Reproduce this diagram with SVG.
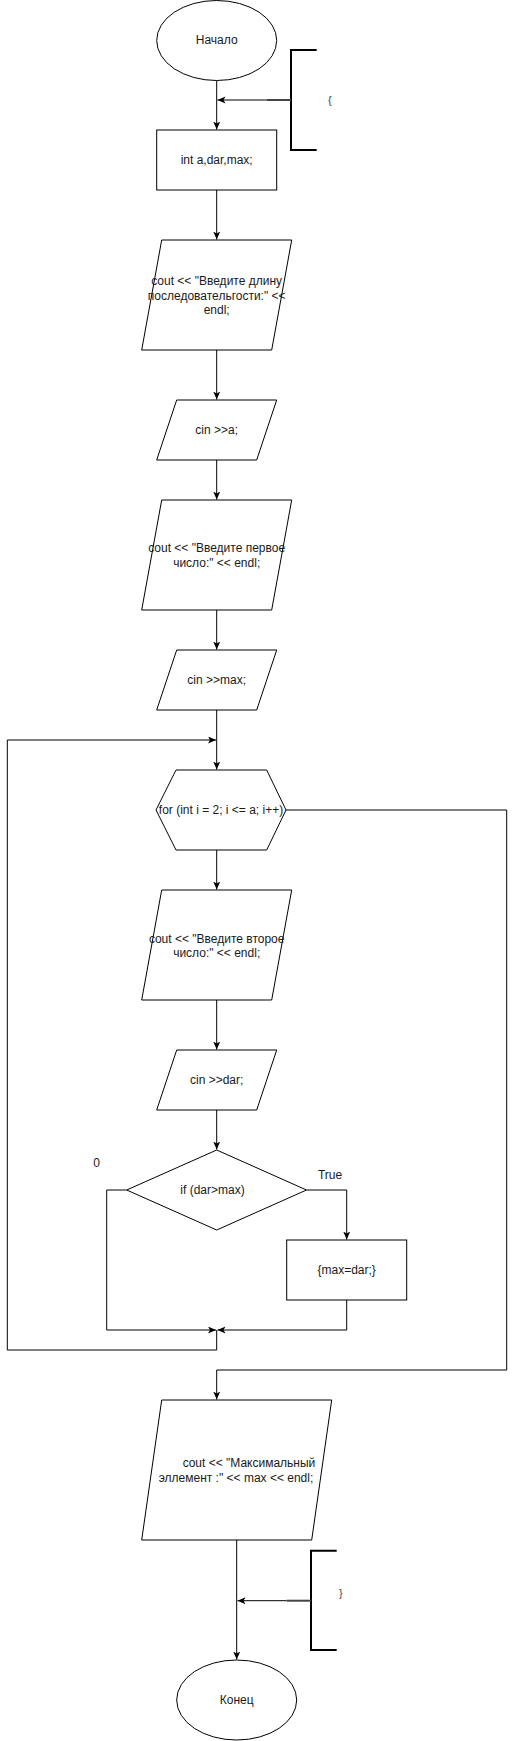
<svg xmlns="http://www.w3.org/2000/svg" width="515" height="1741" viewBox="0 0 515 1741">
<style>
.s{fill:#fff;stroke:#000;stroke-width:1}
.t{font-family:"Liberation Sans",Arial,sans-serif;font-size:12px;fill:#1a1a1a;text-anchor:middle;dominant-baseline:central}
.c{fill:none;stroke:#000;stroke-width:1}
.b{fill:none;stroke:#000;stroke-width:2}
.bt{fill:none;stroke:#444;stroke-width:2}
.g{font-family:"Liberation Sans",Arial,sans-serif;font-size:11px;fill:#444;dominant-baseline:central}
</style>
<defs>
<marker id="a" markerUnits="userSpaceOnUse" markerWidth="10" markerHeight="10" refX="8" refY="3.5" orient="auto">
<path d="M0,0 L8,3.5 L0,7 L2,3.5 z" fill="#000"/>
</marker>
</defs>
<g id="connectors">
<path class="c" d="M216.7,80.5 V129.5" marker-end="url(#a)"/>
<path class="c" d="M266.7,100 H217.5" marker-end="url(#a)"/>
<path class="c" d="M216.7,190 V239.5" marker-end="url(#a)"/>
<path class="c" d="M216.7,350 V399.5" marker-end="url(#a)"/>
<path class="c" d="M216.7,460 V499.5" marker-end="url(#a)"/>
<path class="c" d="M216.7,610 V649.5" marker-end="url(#a)"/>
<path class="c" d="M216.7,710 V769.5" marker-end="url(#a)"/>
<path class="c" d="M216.7,850 V889.5" marker-end="url(#a)"/>
<path class="c" d="M216.7,1000 V1049.5" marker-end="url(#a)"/>
<path class="c" d="M216.7,1110 V1149.5" marker-end="url(#a)"/>
<path class="c" d="M306.5,1190 H346.7 V1239.5" marker-end="url(#a)"/>
<path class="c" d="M346.7,1300 V1330 H217.5" marker-end="url(#a)"/>
<path class="c" d="M126.7,1190 H106.7 V1330 H216" marker-end="url(#a)"/>
<path class="c" d="M216.7,1330 V1350 H7.3 V740 H216" marker-end="url(#a)"/>
<path class="c" d="M286,810 H506.7 V1370 H216.7 V1399.5" marker-end="url(#a)"/>
<path class="c" d="M236.7,1540 V1659.5" marker-end="url(#a)"/>
<path class="c" d="M286.7,1600.7 H237.5" marker-end="url(#a)"/>
</g>
<g id="start">
<ellipse class="s" cx="216.7" cy="40.5" rx="60" ry="40"/>
<text class="t" x="216.7" y="40">Начало</text>
</g>
<g id="brace-open">
<path class="b" d="M316.7,50 H291 V150 H316.7"/>
<path class="bt" d="M266.7,100 H291"/>
<text class="g" x="328" y="100">{</text>
</g>
<g id="decl">
<rect class="s" x="156.7" y="130" width="120" height="60"/>
<text class="t" x="216.7" y="160">int a,dar,max;</text>
</g>
<g id="out1">
<path class="s" d="M161.7,240 H291.7 L271.7,350 H141.7 Z"/>
<text class="t" x="216.7" y="281">cout &lt;&lt; "Введите длину</text>
<text class="t" x="216.7" y="295.5">последовательгости:" &lt;&lt;</text>
<text class="t" x="216.7" y="310">endl;</text>
</g>
<g id="in-a">
<path class="s" d="M176.7,400 H276.7 L256.7,460 H156.7 Z"/>
<text class="t" x="216.7" y="430">cin &gt;&gt;a;</text>
</g>
<g id="out2">
<path class="s" d="M161.7,500 H291.7 L271.7,610 H141.7 Z"/>
<text class="t" x="216.7" y="548">cout &lt;&lt; "Введите первое</text>
<text class="t" x="216.7" y="562.5">число:" &lt;&lt; endl;</text>
</g>
<g id="in-max">
<path class="s" d="M176.7,650 H276.7 L256.7,710 H156.7 Z"/>
<text class="t" x="216.7" y="680">cin &gt;&gt;max;</text>
</g>
<g id="loop">
<path class="s" d="M176,770 H266.7 L286,810 L266.7,850 H176 L156,810 Z"/>
<text class="t" x="221" y="810">for (int i = 2; i &lt;= a; i++)</text>
</g>
<g id="out3">
<path class="s" d="M161.7,890 H291.7 L271.7,1000 H141.7 Z"/>
<text class="t" x="216.7" y="938.5">cout &lt;&lt; "Введите второе</text>
<text class="t" x="216.7" y="953">число:" &lt;&lt; endl;</text>
</g>
<g id="in-dar">
<path class="s" d="M176.7,1050 H276.7 L256.7,1110 H156.7 Z"/>
<text class="t" x="216.7" y="1080">cin &gt;&gt;dar;</text>
</g>
<g id="cond">
<path class="s" d="M216.7,1150 L306.5,1190 L216.7,1230 L126.7,1190 Z"/>
<text class="t" x="212.5" y="1190">if (dar&gt;max)</text>
<text class="t" x="96.7" y="1163">0</text>
<text class="t" x="330" y="1175">True</text>
</g>
<g id="assign">
<rect class="s" x="286.7" y="1240" width="120" height="60"/>
<text class="t" x="346.7" y="1270">{max=dar;}</text>
</g>
<g id="out4">
<path class="s" d="M161.7,1400 H331.7 L311.7,1540 H141.7 Z"/>
<text class="t" x="249" y="1462.5">cout &lt;&lt; "Максимальный</text>
<text class="t" x="236" y="1477.5">эллемент :" &lt;&lt; max &lt;&lt; endl;</text>
</g>
<g id="brace-close">
<path class="b" d="M336.7,1550.7 H311 V1650 H336.7"/>
<path class="bt" d="M286.7,1600.7 H311"/>
<text class="g" x="339" y="1593">}</text>
</g>
<g id="end">
<ellipse class="s" cx="236.7" cy="1700" rx="60" ry="40"/>
<text class="t" x="236.7" y="1700">Конец</text>
</g>
</svg>
